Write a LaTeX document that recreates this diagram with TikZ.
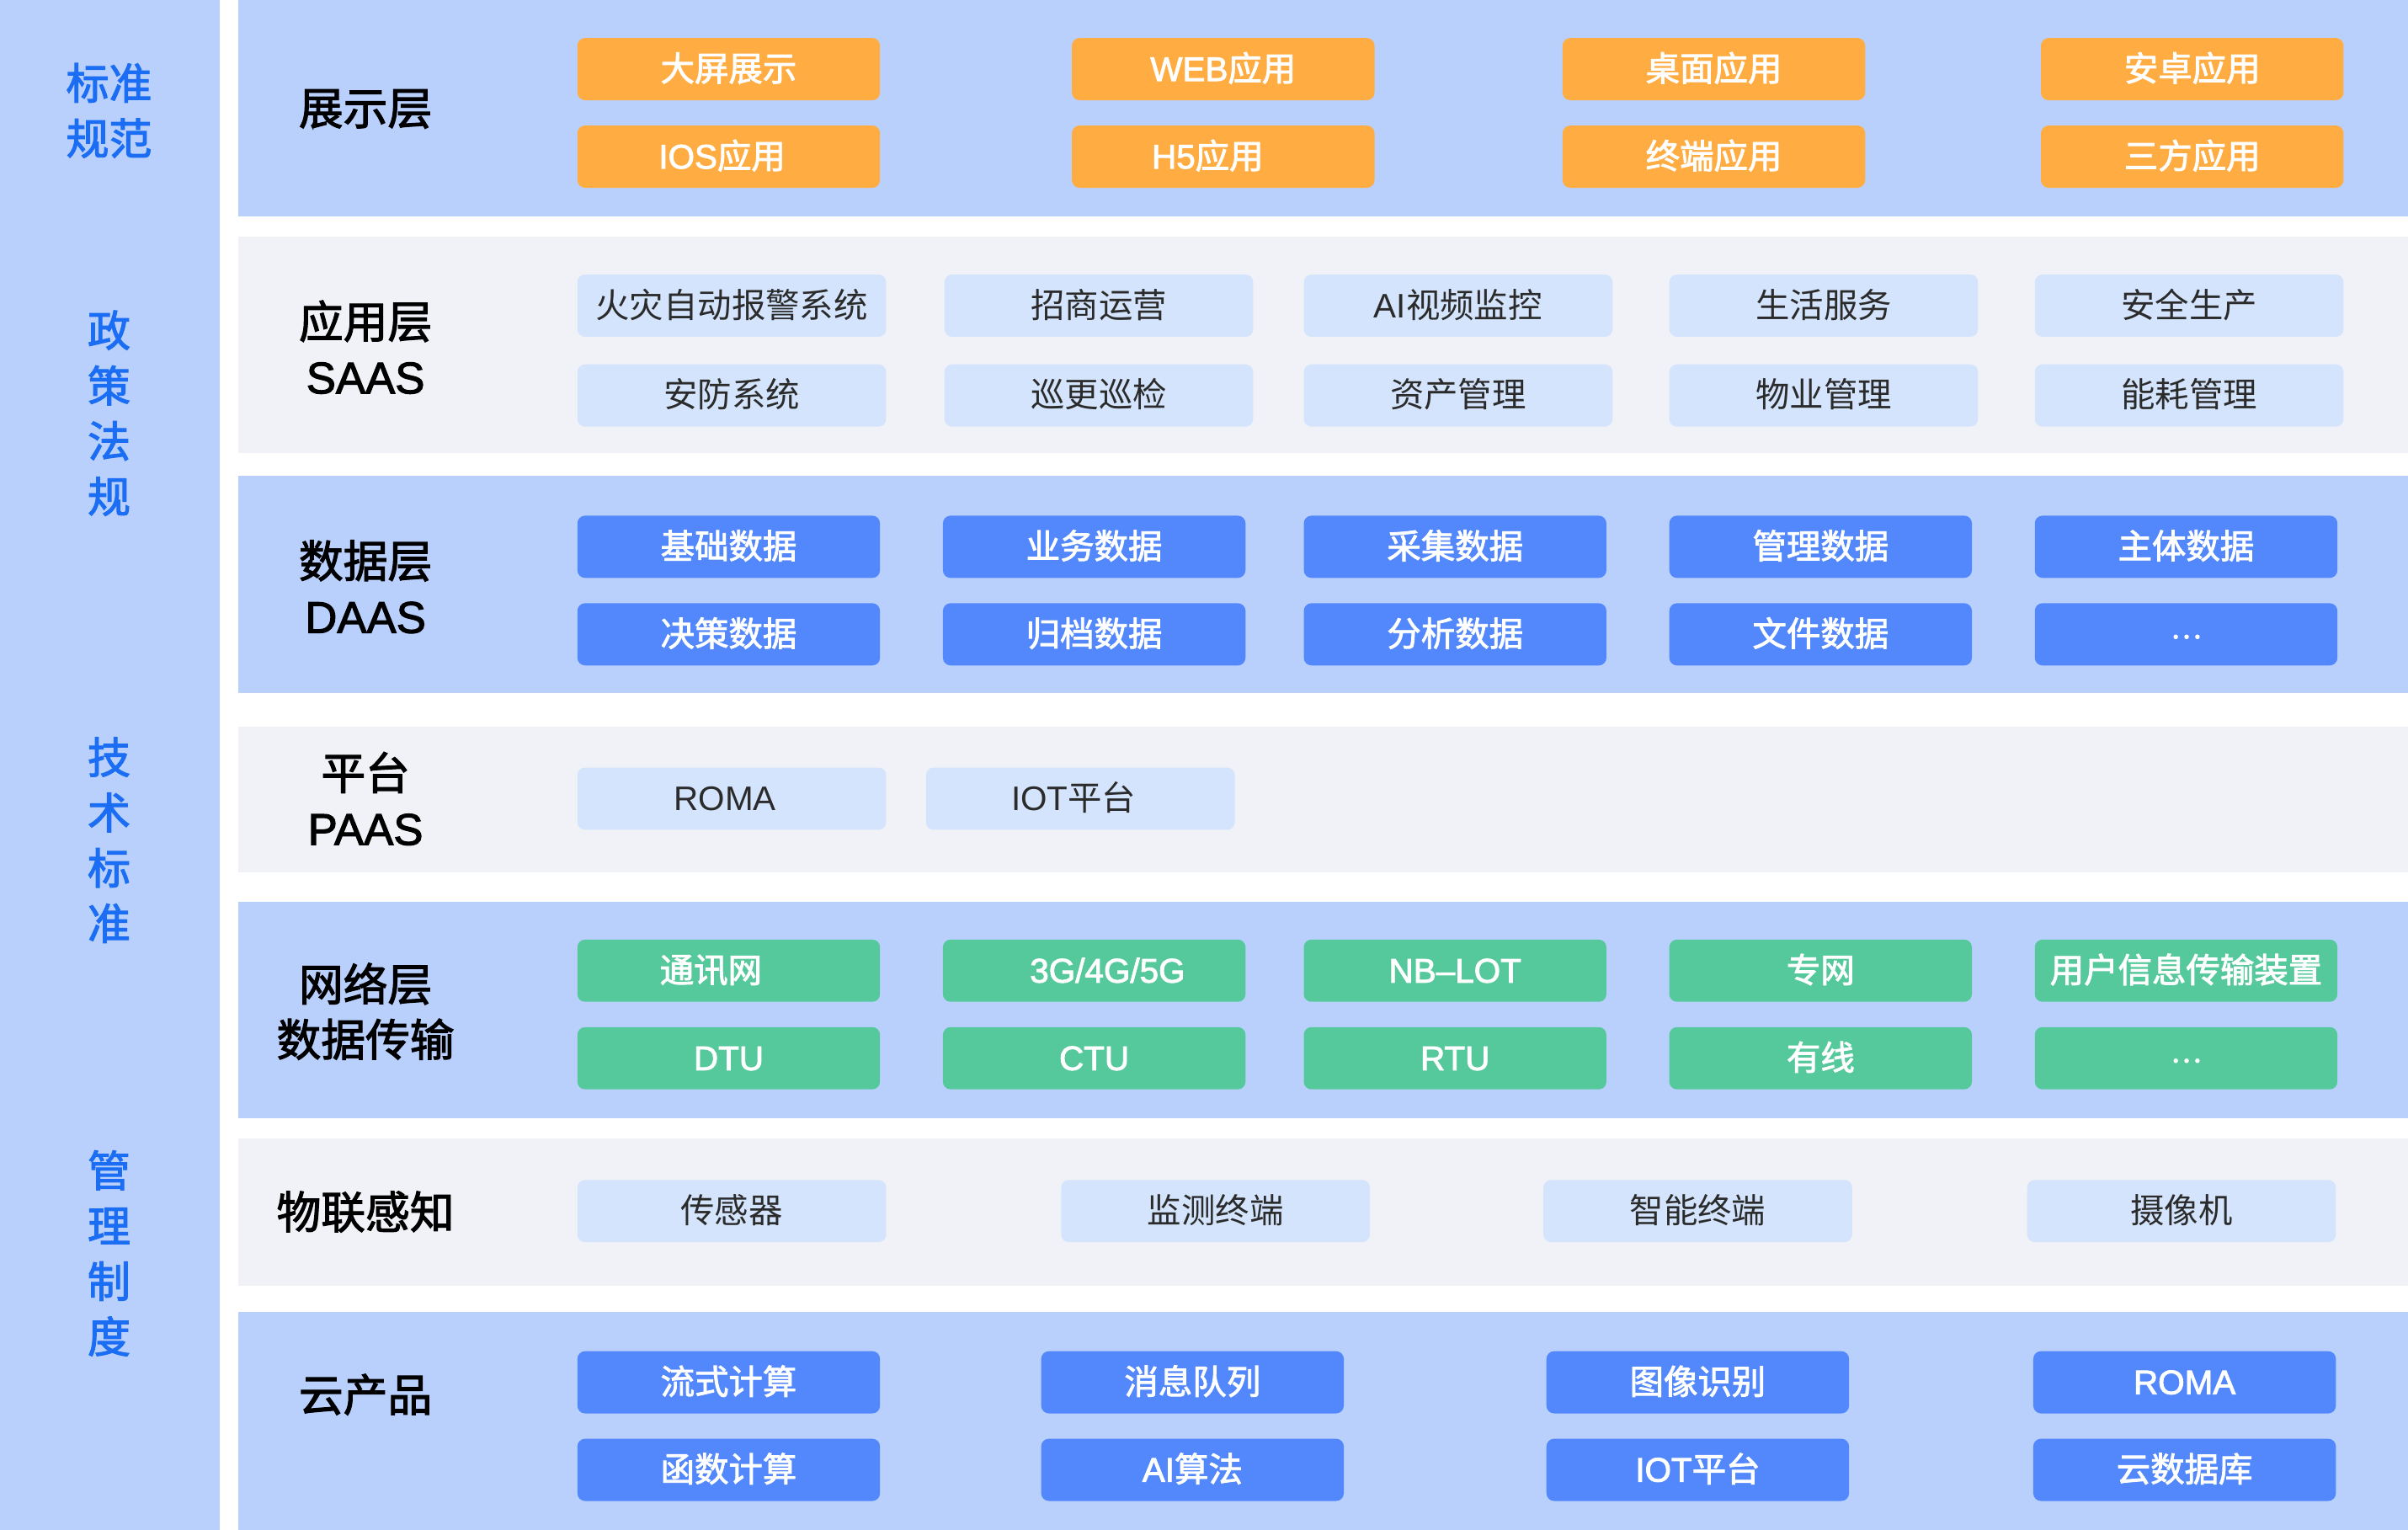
\documentclass[tikz,border=0pt]{standalone}
\usepackage{fontspec}
\setmainfont{Noto Sans CJK SC}
\newfontfamily\medfont[FakeBold=2.2]{Noto Sans CJK SC}
\newfontfamily\enfont{Liberation Sans}
\newfontfamily\enmedfont[FakeBold=2.2]{Liberation Sans}
\usepackage{tikz}

\definecolor{panelblue}{HTML}{B9D0FC}
\definecolor{panelgray}{HTML}{F0F2F7}
\definecolor{showorange}{HTML}{FFAD42}
\definecolor{lightbox}{HTML}{D3E4FC}
\definecolor{boxblue}{HTML}{5388FC}
\definecolor{netgreen}{HTML}{56C99C}
\definecolor{sideblue}{HTML}{1B6EF3}
\definecolor{darktext}{HTML}{2B2B2B}

\newcommand{\boxfont}{\fontsize{11.5}{13}\selectfont}
\newcommand{\layerfont}{\fontsize{15}{18.7}\selectfont}
\newcommand{\sidefont}{\fontsize{14.5}{18.7}\selectfont}
\newcommand{\en}[1]{{\enfont #1}}
\newcommand{\enm}[1]{{\enmedfont #1}}
\newcommand{\more}{\raisebox{2.6pt}{\scalebox{0.85}{…}}}

\begin{document}
\begin{tikzpicture}[x=0.01824cm, y=0.01824cm]
	\tikzstyle{every node}+=[inner sep=0pt]
	\tikzstyle{cbox}=[rounded corners=2.6pt, minimum width=3.593cm, minimum height=0.739cm, text height=9.2pt, text depth=1.2pt, font=\boxfont\medfont, text=white]
	\tikzstyle{obox}=[cbox, fill=showorange]
	\tikzstyle{bbox}=[cbox, fill=boxblue]
	\tikzstyle{gbox}=[cbox, fill=netgreen]
	\tikzstyle{lbox}=[cbox, fill=lightbox, minimum width=3.666cm, font=\boxfont, text=darktext]
	\tikzstyle{layer}=[align=center, font=\layerfont\medfont, text=black]
	\tikzstyle{side}=[align=center, font=\sidefont\medfont, text=sideblue]
	\useasboundingbox (0,0) rectangle (1568,-996);
	\fill [white] (0,0) rectangle (1568,-996);
	\fill [panelblue] (0,0) rectangle (143,-996);
	\fill [panelblue] (155,0) rectangle (1568,-141);
	\fill [panelgray] (155,-154) rectangle (1568,-295);
	\fill [panelblue] (155,-310) rectangle (1568,-451);
	\fill [panelgray] (155,-473) rectangle (1568,-568);
	\fill [panelblue] (155,-587) rectangle (1568,-728);
	\fill [panelgray] (155,-741) rectangle (1568,-837);
	\fill [panelblue] (155,-854) rectangle (1568,-996);
	% side column
	\node [side] (std) at (71,-72) {标准\\规范};
	\node [side] (law) at (71,-269) {政\\策\\法\\规};
	\node [side] (tech) at (71,-547) {技\\术\\标\\准};
	\node [side] (rule) at (71,-816) {管\\理\\制\\度};
	% layer names
	\node [layer] (lshow) at (238,-71) {展示层};
	\node [layer] (lapp) at (238,-226) {应用层\\\enm{SAAS}};
	\node [layer] (ldata) at (238,-382) {数据层\\\enm{DAAS}};
	\node [layer] (lpaas) at (238,-520) {平台\\\enm{PAAS}};
	\node [layer] (lnet) at (238,-658.5) {网络层\\数据传输};
	\node [layer] (liot) at (238,-789) {物联感知};
	\node [layer] (lcloud) at (238,-908) {云产品};
	% show layer
	\node [obox] (show1) at (474.5,-45) {大屏展示};
	\node [obox] (show2) at (796.5,-45) {\enm{WEB}应用};
	\node [obox] (show3) at (1116,-45) {桌面应用};
	\node [obox] (show4) at (1427.5,-45) {安卓应用};
	\node [obox] (show5) at (474.5,-102) {\hspace*{-4.5pt}\enm{IOS}应用};
	\node [obox] (show6) at (796.5,-102) {\hspace*{-10.5pt}\enm{H5}应用};
	\node [obox] (show7) at (1116,-102) {终端应用};
	\node [obox] (show8) at (1427.5,-102) {三方应用};
	% app layer
	\node [lbox] (app1) at (476.5,-199) {火灾自动报警系统};
	\node [lbox] (app2) at (715.5,-199) {招商运营};
	\node [lbox] (app3) at (949.5,-199) {\en{AI}视频监控};
	\node [lbox] (app4) at (1187.5,-199) {生活服务};
	\node [lbox] (app5) at (1425.5,-199) {安全生产};
	\node [lbox] (app6) at (476.5,-257.5) {安防系统};
	\node [lbox] (app7) at (715.5,-257.5) {巡更巡检};
	\node [lbox] (app8) at (949.5,-257.5) {资产管理};
	\node [lbox] (app9) at (1187.5,-257.5) {物业管理};
	\node [lbox] (app10) at (1425.5,-257.5) {能耗管理};
	% data layer
	\node [bbox] (data1) at (474.5,-356) {基础数据};
	\node [bbox] (data2) at (712.5,-356) {业务数据};
	\node [bbox] (data3) at (947.5,-356) {采集数据};
	\node [bbox] (data4) at (1185.5,-356) {管理数据};
	\node [bbox] (data5) at (1423.5,-356) {主体数据};
	\node [bbox] (data6) at (474.5,-413) {决策数据};
	\node [bbox] (data7) at (712.5,-413) {归档数据};
	\node [bbox] (data8) at (947.5,-413) {分析数据};
	\node [bbox] (data9) at (1185.5,-413) {文件数据};
	\node [bbox] (data10) at (1423.5,-413) {\more};
	% platform
	\node [lbox] (paas1) at (476.5,-520) {\hspace*{-4.5pt}\en{ROMA}};
	\node [lbox] (paas2) at (703.5,-520) {\hspace*{-4.5pt}\en{IOT}平台};
	% network layer
	\node [gbox] (net1) at (474.5,-632) {\hspace*{-12pt}通讯网};
	\node [gbox] (net2) at (712.5,-632) {\hspace*{9pt}\enm{3G/4G/5G}};
	\node [gbox] (net3) at (947.5,-632) {\enm{NB–LOT}};
	\node [gbox] (net4) at (1185.5,-632) {专网};
	\node [gbox] (net5) at (1423.5,-632) {用户信息传输装置};
	\node [gbox] (net6) at (474.5,-689) {\enm{DTU}};
	\node [gbox] (net7) at (712.5,-689) {\enm{CTU}};
	\node [gbox] (net8) at (947.5,-689) {\enm{RTU}};
	\node [gbox] (net9) at (1185.5,-689) {有线};
	\node [gbox] (net10) at (1423.5,-689) {\more};
	% sensing
	\node [lbox] (iot1) at (476.5,-788.5) {传感器};
	\node [lbox] (iot2) at (791.5,-788.5) {监测终端};
	\node [lbox] (iot3) at (1105.5,-788.5) {智能终端};
	\node [lbox] (iot4) at (1420.5,-788.5) {摄像机};
	% cloud products
	\node [bbox] (cloud1) at (474.5,-900) {流式计算};
	\node [bbox] (cloud2) at (776.5,-900) {消息队列};
	\node [bbox] (cloud3) at (1105.5,-900) {图像识别};
	\node [bbox] (cloud4) at (1422.5,-900) {\enm{ROMA}};
	\node [bbox] (cloud5) at (474.5,-957) {函数计算};
	\node [bbox] (cloud6) at (776.5,-957) {\enm{AI}算法};
	\node [bbox] (cloud7) at (1105.5,-957) {\enm{IOT}平台};
	\node [bbox] (cloud8) at (1422.5,-957) {云数据库};
\end{tikzpicture}
\end{document}
